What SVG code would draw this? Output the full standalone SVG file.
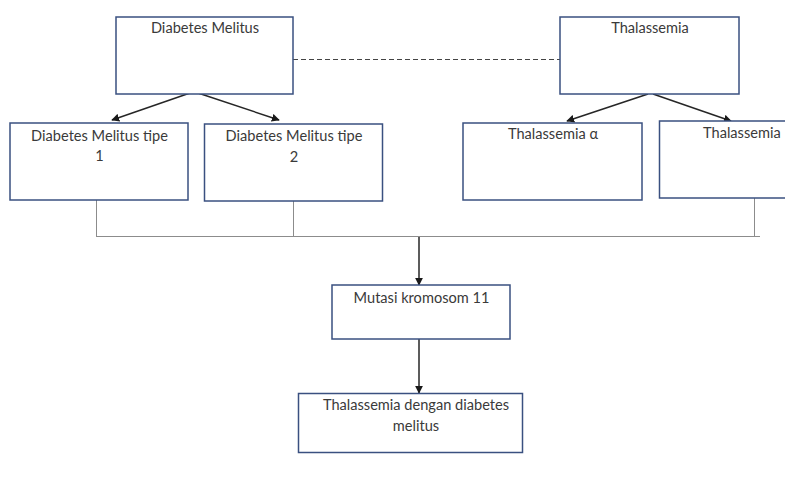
<svg xmlns="http://www.w3.org/2000/svg" width="785" height="480" viewBox="0 0 785 480">
<style>
.box{fill:#fff;stroke:#3a5080;stroke-width:1.5}
.t{font-family:Lato,"Open Sans","Liberation Sans",sans-serif;font-size:14.6px;fill:#3a3a3a;text-anchor:middle}
.arr{stroke:#262626;stroke-width:1.5;fill:none;marker-end:url(#ah)}
.thin{stroke:#8c8c8c;stroke-width:1;fill:none}
</style>
<defs>
<marker id="ah" viewBox="0 0 10 10" refX="9" refY="5" markerWidth="8" markerHeight="8" orient="auto" markerUnits="userSpaceOnUse">
<path d="M0,0 L10,5 L0,10 z" fill="#1a1a1a"/>
</marker>
</defs>
<rect width="785" height="480" fill="#fff"/>
<g id="connectors">
<line x1="293" y1="59.5" x2="560" y2="59.5" stroke="#444" stroke-width="1" stroke-dasharray="5,3"/>
<line class="arr" x1="190" y1="93" x2="112" y2="120"/>
<line class="arr" x1="195" y1="92" x2="279" y2="120"/>
<line class="arr" x1="648" y1="94" x2="567" y2="121"/>
<line class="arr" x1="653" y1="94" x2="731" y2="121"/>
<line class="thin" x1="96.5" y1="200" x2="96.5" y2="236.5"/>
<line class="thin" x1="293.5" y1="197" x2="293.5" y2="236.5"/>
<line class="thin" x1="754.5" y1="180" x2="754.5" y2="236.5"/>
<line class="thin" x1="96" y1="236.5" x2="760" y2="236.5"/>
<line class="arr" x1="419" y1="237" x2="419" y2="285"/>
<line class="arr" x1="419" y1="339" x2="419" y2="393"/>
</g>
<g id="dm">
<rect class="box" x="116" y="17" width="177" height="77"/>
<text class="t" x="205" y="33">Diabetes Melitus</text>
</g>
<g id="thal">
<rect class="box" x="560" y="17" width="179" height="77"/>
<text class="t" x="650" y="33">Thalassemia</text>
</g>
<g id="dm1">
<rect class="box" x="10" y="123" width="178" height="77"/>
<text class="t" x="99.5" y="140.5">Diabetes Melitus tipe</text>
<text class="t" x="99.5" y="161">1</text>
</g>
<g id="dm2">
<rect class="box" x="204.5" y="124" width="178" height="77"/>
<text class="t" x="294" y="141">Diabetes Melitus tipe</text>
<text class="t" x="294" y="161.5">2</text>
</g>
<g id="thala">
<rect class="box" x="463" y="123" width="179" height="77"/>
<text class="t" x="553" y="139">Thalassemia α</text>
</g>
<g id="thalb">
<rect class="box" x="659.5" y="121" width="200" height="77"/>
<text class="t" x="703" y="137.5" style="text-anchor:start">Thalassemia</text>
</g>
<g id="mutasi">
<rect class="box" x="332" y="285" width="178" height="54"/>
<text class="t" x="421.5" y="303">Mutasi kromosom 11</text>
</g>
<g id="result">
<rect class="box" x="298.5" y="393.5" width="224" height="59"/>
<text class="t" x="416" y="410">Thalassemia dengan diabetes</text>
<text class="t" x="416" y="431">melitus</text>
</g>
</svg>
